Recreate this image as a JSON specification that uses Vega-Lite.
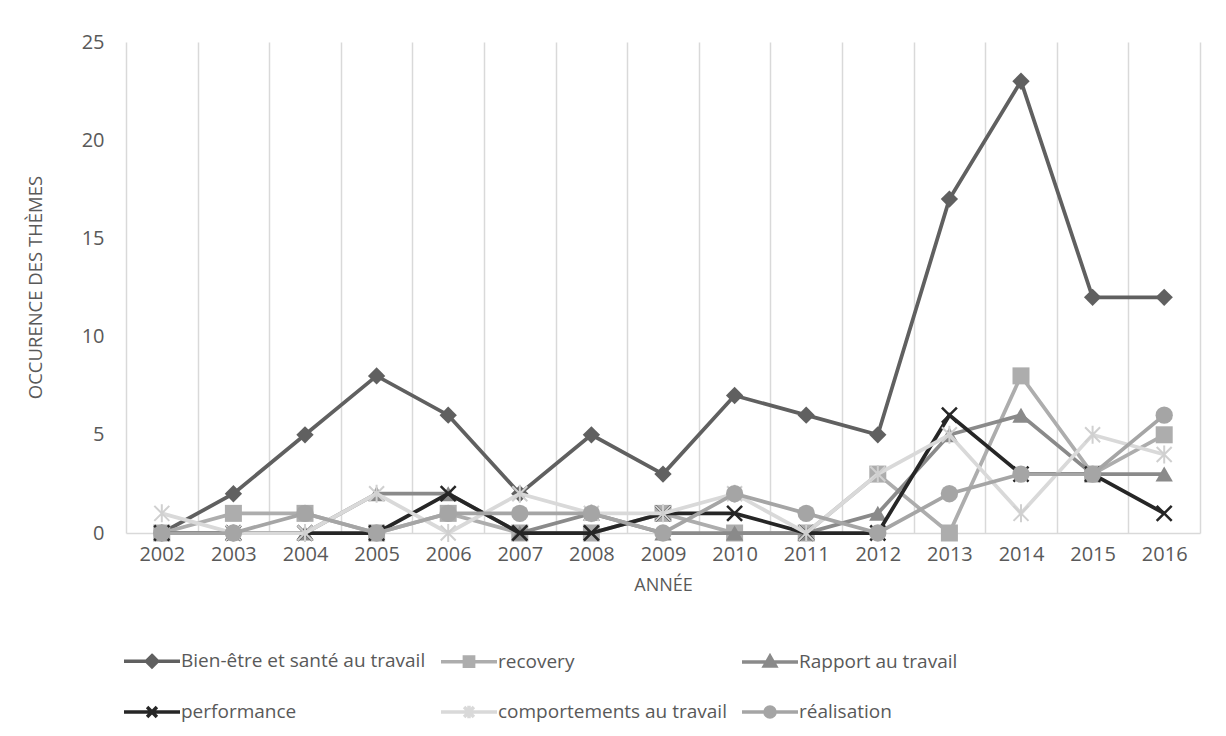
{
  "$schema": "https://vega.github.io/schema/vega-lite/v6.json",
  "width": 1074,
  "height": 491,
  "autosize": "none",
  "padding": {"left": 126, "top": 42, "right": 26, "bottom": 203},
  "background": "white",
  "config": {"font": "Open Sans", "view": {"stroke": null}},
  "data": {"values": [
    {"year": "2002", "series": "Bien-être et santé au travail", "value": 0},
    {"year": "2003", "series": "Bien-être et santé au travail", "value": 2},
    {"year": "2004", "series": "Bien-être et santé au travail", "value": 5},
    {"year": "2005", "series": "Bien-être et santé au travail", "value": 8},
    {"year": "2006", "series": "Bien-être et santé au travail", "value": 6},
    {"year": "2007", "series": "Bien-être et santé au travail", "value": 2},
    {"year": "2008", "series": "Bien-être et santé au travail", "value": 5},
    {"year": "2009", "series": "Bien-être et santé au travail", "value": 3},
    {"year": "2010", "series": "Bien-être et santé au travail", "value": 7},
    {"year": "2011", "series": "Bien-être et santé au travail", "value": 6},
    {"year": "2012", "series": "Bien-être et santé au travail", "value": 5},
    {"year": "2013", "series": "Bien-être et santé au travail", "value": 17},
    {"year": "2014", "series": "Bien-être et santé au travail", "value": 23},
    {"year": "2015", "series": "Bien-être et santé au travail", "value": 12},
    {"year": "2016", "series": "Bien-être et santé au travail", "value": 12},
    {"year": "2002", "series": "recovery", "value": 0},
    {"year": "2003", "series": "recovery", "value": 1},
    {"year": "2004", "series": "recovery", "value": 1},
    {"year": "2005", "series": "recovery", "value": 0},
    {"year": "2006", "series": "recovery", "value": 1},
    {"year": "2007", "series": "recovery", "value": 0},
    {"year": "2008", "series": "recovery", "value": 0},
    {"year": "2009", "series": "recovery", "value": 1},
    {"year": "2010", "series": "recovery", "value": 0},
    {"year": "2011", "series": "recovery", "value": 0},
    {"year": "2012", "series": "recovery", "value": 3},
    {"year": "2013", "series": "recovery", "value": 0},
    {"year": "2014", "series": "recovery", "value": 8},
    {"year": "2015", "series": "recovery", "value": 3},
    {"year": "2016", "series": "recovery", "value": 5},
    {"year": "2002", "series": "Rapport au travail", "value": 0},
    {"year": "2003", "series": "Rapport au travail", "value": 0},
    {"year": "2004", "series": "Rapport au travail", "value": 0},
    {"year": "2005", "series": "Rapport au travail", "value": 2},
    {"year": "2006", "series": "Rapport au travail", "value": 2},
    {"year": "2007", "series": "Rapport au travail", "value": 0},
    {"year": "2008", "series": "Rapport au travail", "value": 1},
    {"year": "2009", "series": "Rapport au travail", "value": 0},
    {"year": "2010", "series": "Rapport au travail", "value": 0},
    {"year": "2011", "series": "Rapport au travail", "value": 0},
    {"year": "2012", "series": "Rapport au travail", "value": 1},
    {"year": "2013", "series": "Rapport au travail", "value": 5},
    {"year": "2014", "series": "Rapport au travail", "value": 6},
    {"year": "2015", "series": "Rapport au travail", "value": 3},
    {"year": "2016", "series": "Rapport au travail", "value": 3},
    {"year": "2002", "series": "performance", "value": 0},
    {"year": "2003", "series": "performance", "value": 0},
    {"year": "2004", "series": "performance", "value": 0},
    {"year": "2005", "series": "performance", "value": 0},
    {"year": "2006", "series": "performance", "value": 2},
    {"year": "2007", "series": "performance", "value": 0},
    {"year": "2008", "series": "performance", "value": 0},
    {"year": "2009", "series": "performance", "value": 1},
    {"year": "2010", "series": "performance", "value": 1},
    {"year": "2011", "series": "performance", "value": 0},
    {"year": "2012", "series": "performance", "value": 0},
    {"year": "2013", "series": "performance", "value": 6},
    {"year": "2014", "series": "performance", "value": 3},
    {"year": "2015", "series": "performance", "value": 3},
    {"year": "2016", "series": "performance", "value": 1},
    {"year": "2002", "series": "comportements au travail", "value": 1},
    {"year": "2003", "series": "comportements au travail", "value": 0},
    {"year": "2004", "series": "comportements au travail", "value": 0},
    {"year": "2005", "series": "comportements au travail", "value": 2},
    {"year": "2006", "series": "comportements au travail", "value": 0},
    {"year": "2007", "series": "comportements au travail", "value": 2},
    {"year": "2008", "series": "comportements au travail", "value": 1},
    {"year": "2009", "series": "comportements au travail", "value": 1},
    {"year": "2010", "series": "comportements au travail", "value": 2},
    {"year": "2011", "series": "comportements au travail", "value": 0},
    {"year": "2012", "series": "comportements au travail", "value": 3},
    {"year": "2013", "series": "comportements au travail", "value": 5},
    {"year": "2014", "series": "comportements au travail", "value": 1},
    {"year": "2015", "series": "comportements au travail", "value": 5},
    {"year": "2016", "series": "comportements au travail", "value": 4},
    {"year": "2002", "series": "réalisation", "value": 0},
    {"year": "2003", "series": "réalisation", "value": 0},
    {"year": "2004", "series": "réalisation", "value": 1},
    {"year": "2005", "series": "réalisation", "value": 0},
    {"year": "2006", "series": "réalisation", "value": 1},
    {"year": "2007", "series": "réalisation", "value": 1},
    {"year": "2008", "series": "réalisation", "value": 1},
    {"year": "2009", "series": "réalisation", "value": 0},
    {"year": "2010", "series": "réalisation", "value": 2},
    {"year": "2011", "series": "réalisation", "value": 1},
    {"year": "2012", "series": "réalisation", "value": 0},
    {"year": "2013", "series": "réalisation", "value": 2},
    {"year": "2014", "series": "réalisation", "value": 3},
    {"year": "2015", "series": "réalisation", "value": 3},
    {"year": "2016", "series": "réalisation", "value": 6}
  ]},
  "encoding": {
    "x": {
      "field": "year", "type": "ordinal",
      "scale": {"type": "band", "paddingInner": 0, "paddingOuter": 0},
      "axis": {
        "title": "ANNÉE", "labelAngle": 0, "tickBand": "extent", "grid": true,
        "gridColor": "#D9D9D9", "gridWidth": 1.5, "ticks": false,
        "domainColor": "#D9D9D9", "domainWidth": 1.5,
        "labelFontSize": 20, "labelColor": "#595959", "labelPadding": 11,
        "titleFontSize": 18, "titleFontWeight": "normal", "titleColor": "#595959", "titlePadding": 12
      }
    },
    "y": {
      "field": "value", "type": "quantitative",
      "scale": {"domain": [0, 25]},
      "axis": {
        "title": "OCCURENCE DES THÈMES", "values": [0, 5, 10, 15, 20, 25],
        "grid": false, "ticks": false, "domain": false,
        "labelFontSize": 20, "labelColor": "#595959", "labelPadding": 22,
        "titleFontSize": 18.5, "titleFontWeight": "normal", "titleColor": "#595959",
        "titleX": -91, "titleY": 245, "titleBaseline": "middle"
      }
    }
  },
  "layer": [
    {"transform": [{"filter": {"field": "series", "equal": "Bien-être et santé au travail"}}], "mark": {"type": "line", "strokeWidth": 3.75, "color": "#606060"}, "encoding": {}},
    {"transform": [{"filter": {"field": "series", "equal": "Bien-être et santé au travail"}}], "mark": {"type": "point", "shape": "diamond", "filled": true, "size": 300, "opacity": 1, "color": "#606060"}},
    {"transform": [{"filter": {"field": "series", "equal": "recovery"}}], "mark": {"type": "line", "strokeWidth": 3.75, "color": "#ADADAD"}, "encoding": {}},
    {"transform": [{"filter": {"field": "series", "equal": "recovery"}}], "mark": {"type": "point", "shape": "square", "filled": true, "size": 289, "opacity": 1, "color": "#ADADAD"}},
    {"transform": [{"filter": {"field": "series", "equal": "Rapport au travail"}}], "mark": {"type": "line", "strokeWidth": 3.75, "color": "#8A8A8A"}, "encoding": {}},
    {"transform": [{"filter": {"field": "series", "equal": "Rapport au travail"}}], "mark": {"type": "point", "shape": "triangle-up", "filled": true, "size": 300, "opacity": 1, "color": "#8A8A8A"}},
    {"transform": [{"filter": {"field": "series", "equal": "performance"}}], "mark": {"type": "line", "strokeWidth": 3.75, "color": "#262626"}, "encoding": {}},
    {"transform": [{"filter": {"field": "series", "equal": "performance"}}], "mark": {"type": "point", "shape": "M-1,-1L1,1M1,-1L-1,1", "filled": false, "strokeWidth": 2.5, "size": 225, "opacity": 1, "color": "#262626"}},
    {"transform": [{"filter": {"field": "series", "equal": "comportements au travail"}}], "mark": {"type": "line", "strokeWidth": 3.75, "color": "#D9D9D9"}, "encoding": {}},
    {"transform": [{"filter": {"field": "series", "equal": "comportements au travail"}}], "mark": {"type": "point", "shape": "M-1,-1L1,1M1,-1L-1,1M0,-1.2L0,1.2", "filled": false, "strokeWidth": 2, "size": 225, "opacity": 1, "color": "#D0D0D0"}},
    {"transform": [{"filter": {"field": "series", "equal": "réalisation"}}], "mark": {"type": "line", "strokeWidth": 3.75, "color": "#A5A5A5"}, "encoding": {}},
    {"transform": [{"filter": {"field": "series", "equal": "réalisation"}}], "mark": {"type": "point", "shape": "circle", "filled": true, "size": 300, "opacity": 1, "color": "#A5A5A5"}},
    {
      "transform": [{"filter": "datum.value < 0"}],
      "mark": {"type": "point", "filled": true, "opacity": 1},
      "encoding": {
        "fill": {
          "field": "series", "type": "nominal",
          "scale": {
            "domain": ["Bien-être et santé au travail", "recovery", "Rapport au travail", "performance", "comportements au travail", "réalisation"],
            "range": ["#606060", "#ADADAD", "#8A8A8A", "#262626", "#D9D9D9", "#A5A5A5"]
          },
          "legend": {"title": null, "orient": "none", "legendX": 10, "legendY": 603, "columns": 3, "direction": "horizontal",
            "labelFontSize": 19, "labelColor": "#595959", "labelFont": "Open Sans", "labelLimit": 600, "symbolSize": 784, "symbolStrokeWidth": 3.5,
            "labelOffset": 13, "columnPadding": 8, "rowPadding": 22}
        },
        "stroke": {
          "field": "series", "type": "nominal",
          "scale": {
            "domain": ["Bien-être et santé au travail", "recovery", "Rapport au travail", "performance", "comportements au travail", "réalisation"],
            "range": ["#606060", "#ADADAD", "#8A8A8A", "#262626", "#D9D9D9", "#A5A5A5"]
          },
          "legend": {"title": null, "orient": "none", "legendX": 10, "legendY": 603, "columns": 3, "direction": "horizontal",
            "labelFontSize": 19, "labelColor": "#595959", "labelFont": "Open Sans", "labelLimit": 600, "symbolSize": 784, "symbolStrokeWidth": 3.5,
            "labelOffset": 13, "columnPadding": 8, "rowPadding": 22}
        },
        "shape": {
          "field": "series", "type": "nominal",
          "scale": {
            "domain": ["Bien-être et santé au travail", "recovery", "Rapport au travail", "performance", "comportements au travail", "réalisation"],
            "range": [
              "M-2,0H2M0,-0.4L0.4,0L0,0.4L-0.4,0Z",
              "M-2,0H2M-0.33,-0.33H0.33V0.33H-0.33Z",
              "M-2,0H2M0,-0.4L0.4,0.3L-0.4,0.3Z",
              "M-2,0H2M-0.35,-0.35L0.35,0.35M0.35,-0.35L-0.35,0.35",
              "M-2,0H2M-0.35,-0.35L0.35,0.35M0.35,-0.35L-0.35,0.35M0,-0.45L0,0.45",
              "M-2,0H2M-0.36,0A0.36,0.36 0 1,0 0.36,0A0.36,0.36 0 1,0 -0.36,0Z"
            ]
          },
          "legend": {"title": null, "orient": "none", "legendX": 10, "legendY": 603, "columns": 3, "direction": "horizontal",
            "labelFontSize": 19, "labelColor": "#595959", "labelFont": "Open Sans", "labelLimit": 600, "symbolSize": 784, "symbolStrokeWidth": 3.5,
            "labelOffset": 13, "columnPadding": 8, "rowPadding": 22}
        }
      }
    }
  ]
}
